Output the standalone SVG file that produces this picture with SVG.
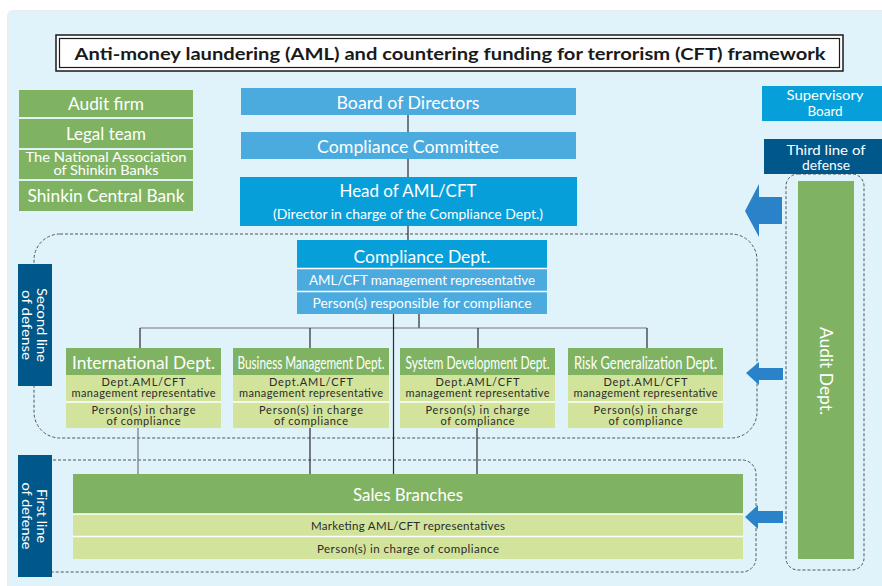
<svg xmlns="http://www.w3.org/2000/svg" width="882" height="586" viewBox="0 0 882 586">
<defs>
<style>
text{font-family:Lato,"Open Sans","Liberation Sans",sans-serif;}
.w{fill:#ffffff;text-anchor:middle;}
.d{fill:#2b2b2b;text-anchor:middle;}
.gd{fill:#7fb362;}
.gl{fill:#d2e39b;}
.bl{fill:#4babdf;}
.bs{fill:#079fda;}
.nv{fill:#00578a;}
.sep{stroke:#ffffff;stroke-width:1.5;}
.ln{stroke:#2b2b2b;stroke-width:1.2;fill:none;}
.lg{stroke:#777777;stroke-width:1.2;fill:none;}
.ds{stroke:#555555;stroke-width:1;stroke-dasharray:3 2;fill:none;}
.ar{fill:#2a83c8;}
</style>
</defs>
<rect x="0" y="0" width="882" height="586" fill="#ffffff"/>
<rect x="7" y="10" width="890" height="590" rx="6" fill="#eaeef0"/>
<rect x="9" y="12" width="890" height="590" rx="5" fill="#e0f2fa"/>

<!-- title -->
<g id="title">
<rect x="56" y="35" width="787" height="36" fill="#ffffff" stroke="#1a1a1a" stroke-width="1.5"/>
<rect x="59.5" y="38.5" width="780" height="29" fill="none" stroke="#1a1a1a" stroke-width="1.2"/>
<text x="450" y="60" font-size="17" font-weight="bold" fill="#1a1a1a" text-anchor="middle" textLength="751" lengthAdjust="spacingAndGlyphs">Anti-money laundering (AML) and countering funding for terrorism (CFT) framework</text>
</g>

<!-- dashed regions -->
<g id="regions">
<rect class="ds" x="34" y="234" width="723" height="204" rx="26"/>
<rect class="ds" x="34" y="460" width="722" height="112" rx="14"/>
<rect class="ds" x="786" y="174" width="78" height="396" rx="12"/>
</g>

<!-- connectors -->
<g id="connectors">
<line class="ln" x1="408" y1="115" x2="408" y2="132"/>
<line class="ln" x1="408" y1="159" x2="408" y2="177"/>
<line class="ln" x1="408" y1="226" x2="408" y2="240"/>
<line class="ln" x1="419" y1="314" x2="419" y2="328"/>
<line class="lg" x1="140" y1="328" x2="647" y2="328"/>
<line class="ln" x1="140" y1="328" x2="140" y2="348"/>
<line class="ln" x1="310" y1="328" x2="310" y2="348"/>
<line class="ln" x1="478" y1="328" x2="478" y2="348"/>
<line class="ln" x1="647" y1="328" x2="647" y2="348"/>
<line class="ln" x1="393.5" y1="314" x2="393.5" y2="474"/>
<line class="lg" x1="138" y1="428" x2="138" y2="474"/>
<line class="ln" x1="310" y1="428" x2="310" y2="474"/>
<line class="ln" x1="477" y1="428" x2="477" y2="474"/>
<polygon class="ar" points="745,211 759,184 759,197 782,197 782,224 759,224 759,237"/>
<polygon class="ar" points="746,373 759,362 759,368 783,368 783,380 759,380 759,385"/>
<polygon class="ar" points="745,517 758,505 758,511 783,511 783,523 758,523 758,529"/>
</g>

<!-- external parties -->
<g id="audit-firm">
<rect class="gd" x="19" y="90" width="174" height="27"/>
<text class="w" x="106" y="110" font-size="17" textLength="76" lengthAdjust="spacingAndGlyphs">Audit firm</text>
</g>
<g id="legal-team">
<rect class="gd" x="19" y="119" width="174" height="29"/>
<text class="w" x="106" y="140" font-size="17" textLength="80" lengthAdjust="spacingAndGlyphs">Legal team</text>
</g>
<g id="national-association">
<rect class="gd" x="19" y="150" width="174" height="29"/>
<text class="w" x="106" y="162" font-size="12.5" textLength="161" lengthAdjust="spacingAndGlyphs">The National Association</text>
<text class="w" x="106" y="175" font-size="12.5" textLength="105" lengthAdjust="spacingAndGlyphs">of Shinkin Banks</text>
</g>
<g id="shinkin-central-bank">
<rect class="gd" x="19" y="181" width="174" height="30"/>
<text class="w" x="106" y="202" font-size="17" textLength="157" lengthAdjust="spacingAndGlyphs">Shinkin Central Bank</text>
</g>

<!-- management chain -->
<g id="board-of-directors">
<rect class="bl" x="241" y="88" width="335" height="27"/>
<text class="w" x="408" y="108.5" font-size="17.5" textLength="143" lengthAdjust="spacingAndGlyphs">Board of Directors</text>
</g>
<g id="compliance-committee">
<rect class="bl" x="241" y="132" width="335" height="27"/>
<text class="w" x="408" y="152.5" font-size="17.5" textLength="182" lengthAdjust="spacingAndGlyphs">Compliance Committee</text>
</g>
<g id="head-aml-cft">
<rect class="bs" x="240" y="177" width="337" height="49"/>
<text class="w" x="408" y="197" font-size="17.5" textLength="137" lengthAdjust="spacingAndGlyphs">Head of AML/CFT</text>
<text class="w" x="408" y="218.5" font-size="12.5" textLength="270" lengthAdjust="spacingAndGlyphs">(Director in charge of the Compliance Dept.)</text>
</g>
<g id="compliance-dept">
<rect class="bs" x="297" y="240" width="250" height="28"/>
<rect class="bl" x="297" y="268" width="250" height="46"/>
<line class="sep" x1="297" y1="268.5" x2="547" y2="268.5"/>
<line class="sep" x1="297" y1="291.5" x2="547" y2="291.5"/>
<text class="w" x="422" y="263" font-size="17.5" textLength="137" lengthAdjust="spacingAndGlyphs">Compliance Dept.</text>
<text class="w" x="422" y="285" font-size="12.5" textLength="226" lengthAdjust="spacingAndGlyphs">AML/CFT management representative</text>
<text class="w" x="422" y="308" font-size="12.5" textLength="219" lengthAdjust="spacingAndGlyphs">Person(s) responsible for compliance</text>
</g>

<!-- departments -->
<g id="international-dept">
<rect class="gd" x="66" y="348" width="155" height="27"/>
<rect class="gl" x="66" y="375" width="155" height="53"/>
<line class="sep" x1="66" y1="402" x2="221" y2="402"/>
<text class="w" x="143.5" y="369" font-size="16.5" textLength="143" lengthAdjust="spacingAndGlyphs">International Dept.</text>
<text class="d" x="143.5" y="386" font-size="11" textLength="84">Dept.AML/CFT</text>
<text class="d" x="143.5" y="397" font-size="11" textLength="144">management representative</text>
<text class="d" x="143.5" y="414" font-size="11" textLength="104">Person(s) in charge</text>
<text class="d" x="143.5" y="425" font-size="11" textLength="74">of compliance</text>
</g>
<g id="business-management-dept">
<rect class="gd" x="233" y="348" width="156" height="27"/>
<rect class="gl" x="233" y="375" width="156" height="53"/>
<line class="sep" x1="233" y1="402" x2="389" y2="402"/>
<text class="w" x="311" y="369" font-size="16.5" textLength="147" lengthAdjust="spacingAndGlyphs">Business Management Dept.</text>
<text class="d" x="311" y="386" font-size="11" textLength="84">Dept.AML/CFT</text>
<text class="d" x="311" y="397" font-size="11" textLength="144">management representative</text>
<text class="d" x="311" y="414" font-size="11" textLength="104">Person(s) in charge</text>
<text class="d" x="311" y="425" font-size="11" textLength="74">of compliance</text>
</g>
<g id="system-development-dept">
<rect class="gd" x="400" y="348" width="155" height="27"/>
<rect class="gl" x="400" y="375" width="155" height="53"/>
<line class="sep" x1="400" y1="402" x2="555" y2="402"/>
<text class="w" x="477.5" y="369" font-size="16.5" textLength="144" lengthAdjust="spacingAndGlyphs">System Development Dept.</text>
<text class="d" x="477.5" y="386" font-size="11" textLength="84">Dept.AML/CFT</text>
<text class="d" x="477.5" y="397" font-size="11" textLength="144">management representative</text>
<text class="d" x="477.5" y="414" font-size="11" textLength="104">Person(s) in charge</text>
<text class="d" x="477.5" y="425" font-size="11" textLength="74">of compliance</text>
</g>
<g id="risk-generalization-dept">
<rect class="gd" x="568" y="348" width="155" height="27"/>
<rect class="gl" x="568" y="375" width="155" height="53"/>
<line class="sep" x1="568" y1="402" x2="723" y2="402"/>
<text class="w" x="645.5" y="369" font-size="16.5" textLength="143" lengthAdjust="spacingAndGlyphs">Risk Generalization Dept.</text>
<text class="d" x="645.5" y="386" font-size="11" textLength="84">Dept.AML/CFT</text>
<text class="d" x="645.5" y="397" font-size="11" textLength="144">management representative</text>
<text class="d" x="645.5" y="414" font-size="11" textLength="104">Person(s) in charge</text>
<text class="d" x="645.5" y="425" font-size="11" textLength="74">of compliance</text>
</g>

<!-- sales branches -->
<g id="sales-branches">
<rect class="gd" x="73" y="474" width="670" height="40"/>
<rect class="gl" x="73" y="514" width="670" height="45"/>
<line class="sep" x1="73" y1="514" x2="743" y2="514"/>
<line class="sep" x1="73" y1="536.5" x2="743" y2="536.5"/>
<text class="w" x="408" y="501" font-size="17" textLength="110" lengthAdjust="spacingAndGlyphs">Sales Branches</text>
<text class="d" x="408" y="530" font-size="11.5" textLength="194">Marketing AML/CFT representatives</text>
<text class="d" x="408" y="553" font-size="11.5" textLength="182">Person(s) in charge of compliance</text>
</g>

<!-- right column -->
<g id="supervisory-board">
<rect class="bs" x="762" y="86" width="120" height="35"/>
<text class="w" x="825" y="100" font-size="13.5" textLength="77" lengthAdjust="spacingAndGlyphs">Supervisory</text>
<text class="w" x="825" y="116" font-size="13.5">Board</text>
</g>
<g id="third-line-label">
<rect class="nv" x="764" y="139" width="118" height="35"/>
<text class="w" x="826" y="154.5" font-size="13.5" textLength="79" lengthAdjust="spacingAndGlyphs">Third line of</text>
<text class="w" x="826" y="170" font-size="13.5" textLength="48" lengthAdjust="spacingAndGlyphs">defense</text>
</g>
<g id="audit-dept">
<rect class="gd" x="798" y="181" width="56" height="378"/>
<text class="w" font-size="18" transform="translate(820,371) rotate(90)" textLength="88" lengthAdjust="spacingAndGlyphs">Audit Dept.</text>
</g>

<!-- line labels -->
<g id="second-line-label">
<rect class="nv" x="18" y="264" width="34" height="122"/>
<text class="w" font-size="13.5" transform="translate(37,325) rotate(90)" textLength="74" lengthAdjust="spacingAndGlyphs">Second line</text>
<text class="w" font-size="13.5" transform="translate(22,325) rotate(90)" textLength="70" lengthAdjust="spacingAndGlyphs">of defense</text>
</g>
<g id="first-line-label">
<rect class="nv" x="18" y="455" width="34" height="122"/>
<text class="w" font-size="13.5" transform="translate(37,516) rotate(90)" textLength="54" lengthAdjust="spacingAndGlyphs">First line</text>
<text class="w" font-size="13.5" transform="translate(22,516) rotate(90)" textLength="67" lengthAdjust="spacingAndGlyphs">of defense</text>
</g>
</svg>
